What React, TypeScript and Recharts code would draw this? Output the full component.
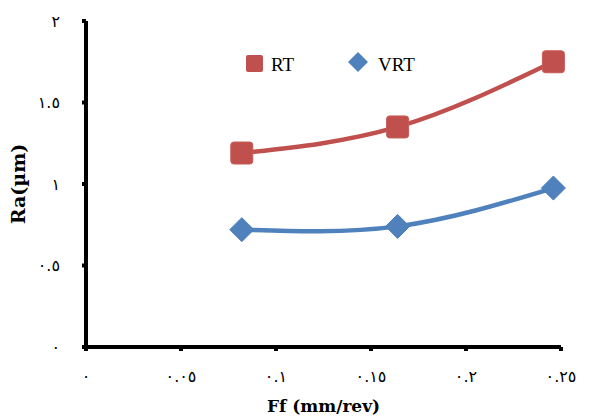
import { LineChart, Line, XAxis, YAxis } from 'recharts';

const feeds = [0.082, 0.164, 0.246];
const rtValues = [1.19, 1.35, 1.75];
const vrtValues = [0.72, 0.74, 0.975];
const xTicks = [0, 0.05, 0.1, 0.15, 0.2, 0.25];
const yTicks = [0, 0.5, 1, 1.5, 2];

const RED = '#C0504D';
const BLUE = '#4F81BD';

const data = feeds.map((f, i) => ({ feed: f, RT: rtValues[i], VRT: vrtValues[i] }));

const arabicDigits = '٠١٢٣٤٥٦٧٨٩';
const toArabic = (v: number) => String(v).replace(/[0-9]/g, (d) => arabicDigits[Number(d)]);

const SquareDot = (props: any) => {
  const { cx, cy } = props;
  if (cx == null || cy == null) return null;
  return <rect x={cx - 11} y={cy - 11} width={22} height={22} rx={3} fill={RED} stroke="#C85B58" strokeWidth={1} />;
};

const DiamondDot = (props: any) => {
  const { cx, cy } = props;
  if (cx == null || cy == null) return null;
  const r = 12;
  return (
    <polygon
      points={`${cx},${cy - r} ${cx + r},${cy} ${cx},${cy + r} ${cx - r},${cy}`}
      fill={BLUE}
      stroke="#4A7DBA"
      strokeWidth={1}
      strokeLinejoin="round"
    />
  );
};

// legend drawn on top of the chart so it doesn't shrink the plot area
const LegendBox = () => (
  <svg width={190} height={30} style={{ position: 'absolute', left: 240, top: 50 }}>
    <rect x={6} y={5} width={17} height={17} rx={2} fill={RED} />
    <text x={31} y={21} fontFamily="'Liberation Serif', serif" fontSize={19} fill="#000">RT</text>
    <polygon points="118,2 128,12 118,22 108,12" fill={BLUE} />
    <text x={138} y={21} fontFamily="'Liberation Serif', serif" fontSize={19} fill="#000">VRT</text>
  </svg>
);

export default function App() {
  return (
    <div style={{ position: 'absolute', left: 0, top: 0, width: 595, height: 418, background: '#fff' }}>
      <LineChart width={595} height={418} data={data} margin={{ top: 21, right: 34, bottom: 0, left: 0 }}>
        <XAxis
          dataKey="feed"
          type="number"
          domain={[0, 0.25]}
          ticks={xTicks}
          tickFormatter={toArabic}
          height={71}
          axisLine={{ stroke: '#000', strokeWidth: 4 }}
          tickLine={{ stroke: '#000', strokeWidth: 4 }}
          tickSize={4}
          tickMargin={20}
          tick={{ fill: '#000', fontSize: 16, fontFamily: "'DejaVu Sans', sans-serif" }}
          label={{
            value: 'Ff (mm/rev)',
            position: 'insideBottom',
            offset: 6,
            fill: '#000',
            fontSize: 17,
            fontWeight: 'bold',
            fontFamily: "'DejaVu Serif', serif",
          }}
        />
        <YAxis
          type="number"
          domain={[0, 2]}
          ticks={yTicks}
          tickFormatter={toArabic}
          width={86}
          axisLine={{ stroke: '#000', strokeWidth: 4 }}
          tickLine={{ stroke: '#000', strokeWidth: 4 }}
          tickSize={4}
          tickMargin={22}
          tick={{ fill: '#000', fontSize: 16, fontFamily: "'DejaVu Sans', sans-serif" }}
          label={{
            value: 'Ra(µm)',
            angle: -90,
            position: 'insideLeft',
            offset: 18,
            fill: '#000',
            fontSize: 19,
            fontWeight: 'bold',
            fontFamily: "'DejaVu Serif', serif",
            style: { textAnchor: 'middle' },
          }}
        />
        <Line
          type="natural"
          dataKey="RT"
          stroke={RED}
          strokeWidth={4.5}
          dot={<SquareDot />}
          activeDot={false}
          isAnimationActive={false}
        />
        <Line
          type="natural"
          dataKey="VRT"
          stroke={BLUE}
          strokeWidth={4.5}
          dot={<DiamondDot />}
          activeDot={false}
          isAnimationActive={false}
        />
      </LineChart>
      <LegendBox />
    </div>
  );
}
